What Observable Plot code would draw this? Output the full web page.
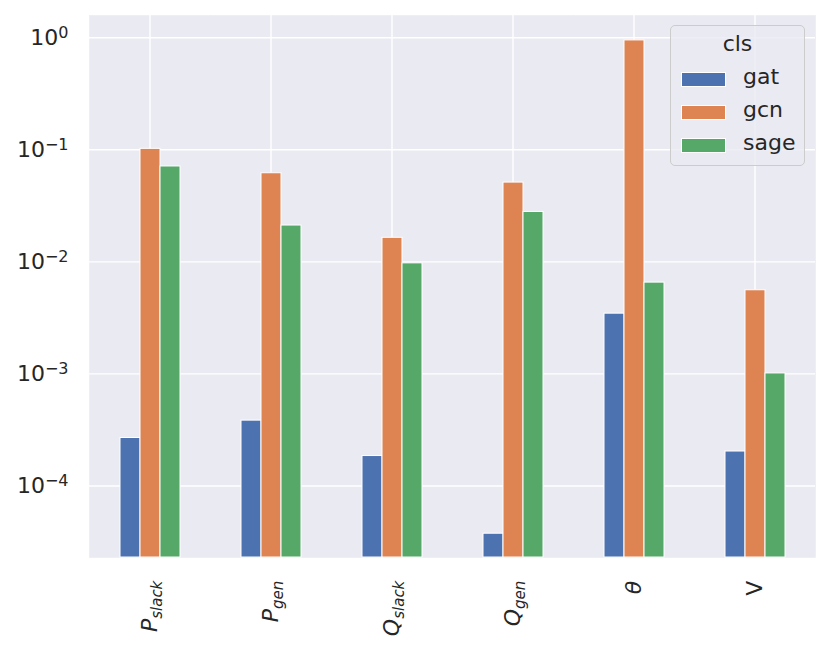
<!DOCTYPE html>
<html><head><meta charset="utf-8">
<script src="https://cdn.jsdelivr.net/npm/d3@7"></script>
<script src="https://cdn.jsdelivr.net/npm/@observablehq/plot@0.6"></script>
<style>
body{margin:0;background:#fff;}
#wrap{position:relative;width:831px;height:651px;font-family:"DejaVu Sans",sans-serif;color:#262626;}
#legend{position:absolute;left:670px;top:25px;width:133px;height:139px;background:rgba(234,234,242,0.8);border:1.5px solid #cccccc;border-radius:5px;box-sizing:content-box;}
#legend .title{position:absolute;left:0;width:100%;top:5px;text-align:center;font-size:22px;line-height:26px;}
#legend .row{position:absolute;left:10px;height:20px;}
#legend .sw{position:absolute;left:0;top:0;width:43px;height:13px;border:1px solid #fff;}
#legend .lab{position:absolute;left:62px;top:-8px;font-size:22px;line-height:26px;white-space:nowrap;}
</style>
</head><body><div id="wrap"></div>
<script>
const categories = ["P_slack", "P_gen", "Q_slack", "Q_gen", "theta", "V"];
const labelBase = ["P", "P", "Q", "Q", "θ", "V"];
const labelSub = ["slack", "gen", "slack", "gen", "", ""];
const labelItalic = [true, true, true, true, true, false];
const series = ["gat", "gcn", "sage"];
const gat = [2.68e-4, 3.83e-4, 1.85e-4, 3.75e-5, 3.45e-3, 2.03e-4];
const gcn = [0.102, 0.0618, 0.0164, 0.051, 0.947, 0.00558];
const sage = [0.071, 0.0211, 0.0097, 0.0279, 0.00653, 0.00101];
const colors = ["#4c72b0", "#dd8452", "#55a868"];
const yTicks = [1e-4, 1e-3, 1e-2, 1e-1, 1];
const yDomain = [2.3e-5, 1.58];

const seriesValues = {gat, gcn, sage};
const data = [];
categories.forEach((c, i) => {
  series.forEach(s => data.push({cat: c, cls: s, value: seriesValues[s][i]}));
});

const chart = Plot.plot({
  width: 831, height: 651,
  marginLeft: 88, marginRight: 16, marginTop: 15, marginBottom: 94,
  style: {fontFamily: "DejaVu Sans, sans-serif", fontSize: "21px", color: "#262626", background: "transparent", overflow: "visible"},
  fx: {domain: categories, padding: 0, label: null},
  x: {domain: series, paddingInner: 0, paddingOuter: 1.5, axis: null},
  y: {type: "log", domain: yDomain, label: null},
  color: {domain: series, range: colors},
  marks: [
    Plot.frame({fill: "#eaeaf2", stroke: "#eaeaf2", strokeWidth: 0.6}),
    Plot.gridY(yTicks, {stroke: "white", strokeOpacity: 1, strokeWidth: 1.4}),
    Plot.gridFx({stroke: "white", strokeOpacity: 1, strokeWidth: 1.4}),
    Plot.barY(data, {fx: "cat", x: "cls", y1: yDomain[0], y2: "value", fill: "cls", stroke: "white", strokeWidth: 1}),
    Plot.axisY(yTicks, {tickSize: 0, tickPadding: 21, label: null, fontSize: 22, tickFormat: d => String(Math.round(Math.log10(d))), fill: "#262626"}),
    Plot.axisFx({anchor: "bottom", tickSize: 0, tickPadding: 21, tickRotate: -90, label: null, fontSize: 22, fill: "#262626"})
  ]
});

const wrap = document.getElementById("wrap");
wrap.appendChild(chart);

// y tick labels as 10^k
d3.select(chart).selectAll('g[aria-label="y-axis tick label"] text').each(function() {
  const t = d3.select(this);
  const e = t.text().replace("-", "−");
  t.text("");
  t.append("tspan").text("10");
  t.append("tspan").attr("dy", "-0.45em").attr("font-size", "16px").text(e);
});

// fx tick labels with subscripts
d3.select(chart).selectAll('g[aria-label="fx-axis tick label"] text').each(function() {
  const t = d3.select(this);
  const i = categories.indexOf(t.text());
  if (i < 0) return;
  t.text("");
  t.attr("dx", "-0.1em");
  t.append("tspan").attr("font-style", labelItalic[i] ? "italic" : "normal").text(labelBase[i]);
  if (labelSub[i]) t.append("tspan").attr("font-style", "italic").attr("font-size", "15px").attr("dy", "0.35em").text(labelSub[i]);
});

// legend
const lg = document.createElement("div");
lg.id = "legend";
let html = '<div class="title">cls</div>';
series.forEach((s, i) => {
  html += `<div class="row" style="top:${46 + i * 33}px"><div class="sw" style="background:${colors[i]}"></div><div class="lab">${s}</div></div>`;
});
lg.innerHTML = html;
wrap.appendChild(lg);
</script>
</body></html>
